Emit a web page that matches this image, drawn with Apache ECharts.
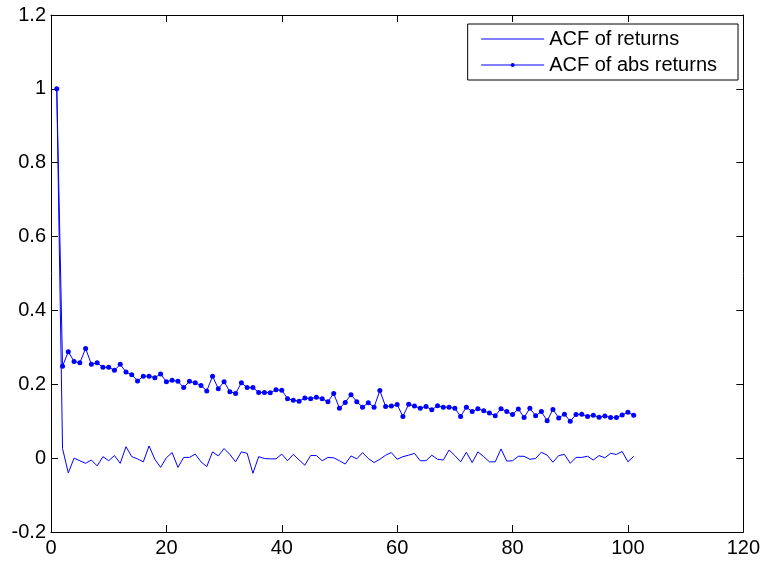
<!DOCTYPE html>
<html>
<head>
<meta charset="utf-8">
<script src="https://cdn.jsdelivr.net/npm/echarts@6/dist/echarts.min.js"></script>
<style>
  html, body { margin: 0; padding: 0; background: #fff; }
  #chart { width: 763px; height: 562px; }
</style>
</head>
<body>
<div id="chart"></div>
<script>
// Lags of the autocorrelation function
var lags = [
  1, 2, 3, 4, 5, 6, 7, 8, 9, 10, 11, 12, 13, 14, 15, 16, 17, 18, 19, 20,
  21, 22, 23, 24, 25, 26, 27, 28, 29, 30, 31, 32, 33, 34, 35, 36, 37, 38, 39, 40,
  41, 42, 43, 44, 45, 46, 47, 48, 49, 50, 51, 52, 53, 54, 55, 56, 57, 58, 59, 60,
  61, 62, 63, 64, 65, 66, 67, 68, 69, 70, 71, 72, 73, 74, 75, 76, 77, 78, 79, 80,
  81, 82, 83, 84, 85, 86, 87, 88, 89, 90, 91, 92, 93, 94, 95, 96, 97, 98, 99, 100,
  101
];

// Sample autocorrelation of returns
var acfReturns = [
  1.000, 0.026, -0.040, 0.000, -0.007, -0.014, -0.005, -0.021, 0.004, -0.007,
  0.007, -0.014, 0.031, 0.004, -0.002, -0.010, 0.033, -0.003, -0.025, 0.001,
  0.015, -0.025, 0.002, 0.002, 0.011, -0.010, -0.023, 0.017, 0.006, 0.026,
  0.010, -0.010, 0.017, 0.013, -0.041, 0.004, -0.001, -0.002, -0.002, 0.011,
  -0.007, 0.010, -0.005, -0.019, 0.007, 0.007, -0.007, 0.002, 0.001, -0.007,
  -0.016, 0.006, -0.002, 0.015, -0.001, -0.012, -0.003, 0.008, 0.015, -0.003,
  0.004, 0.008, 0.013, -0.007, -0.007, 0.008, -0.003, -0.005, 0.022, 0.007,
  -0.010, 0.016, -0.012, 0.017, 0.004, -0.010, -0.010, 0.025, -0.008, -0.007,
  0.005, 0.005, -0.003, -0.001, 0.016, 0.008, -0.011, 0.007, 0.010, -0.014,
  0.002, 0.002, 0.005, -0.005, 0.007, 0.001, 0.013, 0.010, 0.018, -0.010,
  0.005
];

// Sample autocorrelation of absolute returns
var acfAbsReturns = [
  1.000, 0.249, 0.288, 0.262, 0.258, 0.297, 0.254, 0.258, 0.246, 0.246,
  0.238, 0.254, 0.233, 0.226, 0.209, 0.222, 0.222, 0.218, 0.228, 0.207,
  0.211, 0.208, 0.191, 0.208, 0.204, 0.197, 0.182, 0.222, 0.188, 0.207,
  0.180, 0.175, 0.204, 0.191, 0.191, 0.178, 0.178, 0.177, 0.185, 0.184,
  0.161, 0.157, 0.154, 0.163, 0.161, 0.165, 0.161, 0.153, 0.175, 0.135,
  0.151, 0.172, 0.153, 0.138, 0.150, 0.138, 0.183, 0.140, 0.141, 0.145,
  0.113, 0.146, 0.141, 0.135, 0.140, 0.131, 0.142, 0.138, 0.138, 0.135,
  0.113, 0.138, 0.126, 0.134, 0.128, 0.122, 0.115, 0.134, 0.126, 0.118,
  0.133, 0.110, 0.135, 0.115, 0.126, 0.101, 0.132, 0.109, 0.119, 0.100,
  0.118, 0.119, 0.113, 0.116, 0.111, 0.114, 0.110, 0.110, 0.117, 0.124,
  0.116
];

// Axis ranges and ticks
var xTicks = { min: 0, max: 120, interval: 20 };
var yTicks = { min: -0.2, max: 1.2, interval: 0.2 };

var seriesNames = ['ACF of returns', 'ACF of abs returns'];

function pairs(xs, ys) {
  return xs.map(function (x, i) { return [x, ys[i]]; });
}

var FONT = '"Liberation Sans", Arial, Helvetica, sans-serif';
var BLUE = '#0000ff';

function frameAxis(extra) {
  var base = {
    type: 'value',
    axisLine: { show: true, onZero: false, lineStyle: { color: '#000', width: 1 } },
    axisTick: { show: true, inside: true, length: 7, lineStyle: { color: '#000', width: 1 } },
    splitLine: { show: false },
    axisLabel: { show: false }
  };
  return Object.assign(base, extra);
}

var chart = echarts.init(document.getElementById('chart'), null, { renderer: 'canvas' });

chart.setOption({
  animation: false,
  backgroundColor: '#fff',
  textStyle: { fontFamily: FONT },
  grid: { left: 51, right: 18, top: 15, bottom: 30, containLabel: false },
  legend: {
    data: [
      // plain line sample, no marker
      { name: seriesNames[0], itemStyle: { opacity: 0 } },
      // line sample with a small dot
      { name: seriesNames[1] }
    ],
    orient: 'vertical',
    right: 25,
    top: 24,
    padding: [5, 21, 5, 13],
    itemGap: 6,
    itemWidth: 63,
    itemHeight: 5,
    itemTextGap: 9,
    borderColor: '#000',
    borderWidth: 1,
    backgroundColor: '#fff',
    lineStyle: { width: 1 },
    textStyle: { fontFamily: FONT, fontSize: 20, color: '#000', lineHeight: 20 }
  },
  xAxis: [
    frameAxis({
      position: 'bottom',
      min: xTicks.min, max: xTicks.max, interval: xTicks.interval,
      axisLabel: { show: true, color: '#000', fontSize: 20, fontFamily: FONT, margin: 6 }
    }),
    frameAxis({
      position: 'top',
      min: xTicks.min, max: xTicks.max, interval: xTicks.interval
    })
  ],
  yAxis: [
    frameAxis({
      position: 'left',
      min: yTicks.min, max: yTicks.max, interval: yTicks.interval,
      axisLabel: {
        show: true, color: '#000', fontSize: 20, fontFamily: FONT, margin: 5,
        formatter: function (v) { return String(+v.toFixed(1)); }
      }
    }),
    frameAxis({
      position: 'right',
      min: yTicks.min, max: yTicks.max, interval: yTicks.interval
    })
  ],
  series: [
    {
      name: seriesNames[0],
      type: 'line',
      xAxisIndex: 0,
      yAxisIndex: 0,
      data: pairs(lags, acfReturns),
      showSymbol: false,
      symbol: 'none',
      lineStyle: { color: BLUE, width: 1 },
      itemStyle: { color: BLUE }
    },
    {
      name: seriesNames[1],
      type: 'line',
      xAxisIndex: 0,
      yAxisIndex: 0,
      data: pairs(lags, acfAbsReturns),
      symbol: 'circle',
      symbolSize: 5,
      showSymbol: true,
      lineStyle: { color: BLUE, width: 1 },
      itemStyle: { color: BLUE }
    }
  ]
});
</script>
</body>
</html>
